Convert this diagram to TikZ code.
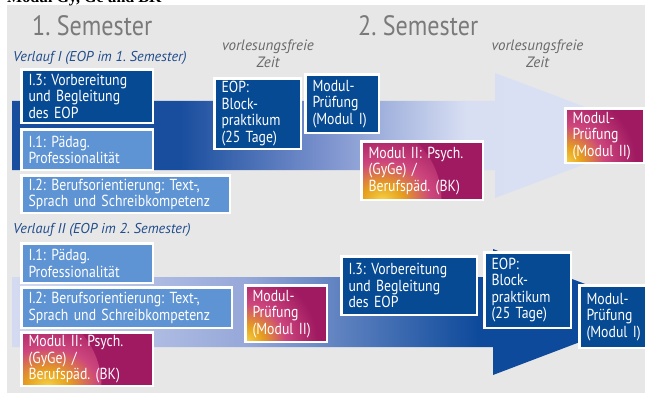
\documentclass[tikz,border=0pt]{standalone}
\usepackage{fontspec}
\setmainfont{PT Sans}[FakeStretch=0.86]
\newfontfamily\wide{PT Sans}
\newfontfamily\hdrfont{Liberation Serif}
\frenchspacing
\definecolor{bgc}{RGB}{231,231,231}
\definecolor{dkb}{RGB}{6,74,147}
\definecolor{ltb}{RGB}{94,148,211}
\definecolor{magc}{RGB}{160,26,98}
\definecolor{pinkc}{RGB}{205,70,125}
\definecolor{orgc}{RGB}{230,160,30}
\definecolor{ylc}{RGB}{245,210,70}
\definecolor{verc}{RGB}{32,76,140}
\definecolor{semc}{RGB}{122,122,122}
\definecolor{zeitc}{RGB}{105,105,105}
\definecolor{bandd}{RGB}{25,78,158}
\definecolor{bandm}{RGB}{122,145,205}
\definecolor{bandl}{RGB}{216,223,243}
\definecolor{bandll}{RGB}{224,230,246}
\definecolor{bandltwo}{RGB}{212,219,241}
\definecolor{bandmtwo}{RGB}{150,168,217}
\definecolor{banddtwo}{RGB}{14,74,155}
\pgfdeclarehorizontalshading{bandone}{100bp}{color(0bp)=(bandd); color(38bp)=(bandd); color(49bp)=(bandm); color(60bp)=(bandl); color(100bp)=(bandll)}
\pgfdeclarehorizontalshading{bandtwo}{100bp}{color(0bp)=(bandltwo); color(25bp)=(bandltwo); color(43bp)=(bandmtwo); color(61bp)=(banddtwo); color(100bp)=(banddtwo)}
\pgfdeclareradialshading{orgmag}{\pgfpoint{0bp}{0bp}}{color(0bp)=(ylc); color(5bp)=(orgc); color(12bp)=(pinkc); color(22bp)=(magc); color(50bp)=(magc)}
\tikzset{
  boxbase/.style={draw=white, line width=2.5pt, rectangle, inner xsep=7pt, inner ysep=2pt,
    align=left, text=white, anchor=north west,
    font=\fontsize{16}{16.5}\selectfont,
    execute at begin node={\frenchspacing\hyphenpenalty=10000\exhyphenpenalty=10000}},
  dbox/.style={boxbase, fill=dkb},
  lbox/.style={boxbase, fill=ltb},
  gbox/.style={boxbase, fill=magc, path picture={\shade[shading=orgmag] (path picture bounding box.south west) circle (80pt);}},
  semtitle/.style={anchor=base west, inner sep=0pt, text=semc, font=\fontsize{28}{30}\selectfont},
  zeit/.style={anchor=north, inner sep=0pt, align=center, text=zeitc, font=\wide\itshape\fontsize{15}{16.5}\selectfont},
  verlauf/.style={anchor=base west, inner sep=0pt, text=verc, font=\wide\itshape\fontsize{14.3}{16}\selectfont},
}
\begin{document}
\begin{tikzpicture}[x=1pt,y=-1pt]
\useasboundingbox (0,0) rectangle (645,393);
\clip (0,0) rectangle (645,393);
\fill[white] (0,0) rectangle (645,393);
\fill[bgc] (7,5) rectangle (645,393);
\node[anchor=base west, inner sep=0pt, font=\hdrfont\bfseries\fontsize{16}{16}\selectfont] (hdr) at (7,3) {Modul Gy, Ge und BK};
% titles
\node[semtitle] (s1) at (32,36) {1. Semester};
\node[semtitle] (s2) at (358,36) {2. Semester};
\node[zeit] (z1) at (268,40) {vorlesungsfreie\\Zeit};
\node[zeit] (z2) at (537.5,40) {vorlesungsfreie\\Zeit};
\node[verlauf] (v1) at (13,62) {Verlauf I (EOP im 1. Semester)};
\node[verlauf] (v2) at (13,233) {Verlauf II (EOP im 2. Semester)};
% bands
\shade[shading=bandone] (12,101) -- (495,101) -- (495,73) -- (661,135.5) -- (495,198) -- (495,170) -- (12,170) -- cycle;
\shade[shading=bandtwo] (12,277) -- (493,277) -- (493,249) -- (659,312) -- (493,375) -- (493,347) -- (12,347) -- cycle;
% Verlauf I boxes
\node[dbox, minimum width=131.5pt, minimum height=53.5pt, text width=117.5pt] (a13) at (20.25,68.25) {I.3: Vorbereitung\\und Begleitung\\des EOP};
\node[lbox, minimum width=131.5pt, minimum height=40.5pt, text width=117.5pt] (a11) at (20.25,128.25) {I.1: Pädag.\\Professionalität};
\node[lbox, minimum width=208.5pt, minimum height=37.5pt, text width=194.5pt] (a12) at (20.25,174.25) {I.2: Berufsorientierung: Text-,\\Sprach und Schreibkompetenz};
\node[dbox, minimum width=86.5pt, minimum height=70.5pt, text width=72.5pt] (aeop) at (213.25,77.25) {EOP:\\Block-\\praktikum\\(25 Tage)};
\node[dbox, minimum width=73.5pt, minimum height=58.5pt, text width=59.5pt] (amp1) at (304.25,73.25) {Modul-\\Prüfung\\(Modul I)};
\node[gbox, minimum width=121.5pt, minimum height=58.5pt, text width=107.5pt] (am2) at (360.25,140.25) {Modul II: Psych.\\(GyGe) /\\Berufspäd. (BK)};
\node[gbox, minimum width=78.5pt, minimum height=54.5pt, text width=64.5pt] (amp2) at (564.25,107.25) {Modul-\\Prüfung\\(Modul II)};
% Verlauf II boxes
\node[lbox, minimum width=131.5pt, minimum height=39.5pt, text width=117.5pt] (b11) at (20.25,242.25) {I.1: Pädag.\\Professionalität};
\node[lbox, minimum width=210.5pt, minimum height=40.5pt, text width=196.5pt] (b12) at (20.25,286.25) {I.2: Berufsorientierung: Text-,\\Sprach und Schreibkompetenz};
\node[gbox, minimum width=131.5pt, minimum height=53.5pt, text width=117.5pt] (bm2) at (20.25,331.25) {Modul II: Psych.\\(GyGe) /\\Berufspäd. (BK)};
\node[gbox, minimum width=81.5pt, minimum height=56.5pt, text width=67.5pt] (bmp2) at (244.25,284.25) {Modul-\\Prüfung\\(Modul II)};
\node[dbox, minimum width=135.5pt, minimum height=58.5pt, text width=121.5pt] (b13) at (340.25,255.25) {I.3: Vorbereitung\\und Begleitung\\des EOP};
\node[dbox, minimum width=86.5pt, minimum height=75.5pt, text width=72.5pt] (beop) at (483.25,251.25) {EOP:\\Block-\\praktikum\\(25 Tage)};
\node[dbox, minimum width=72pt, minimum height=62.5pt, text width=58pt] (bmp1) at (578.25,284.25) {Modul-\\Prüfung\\(Modul I)};
\end{tikzpicture}
\end{document}
